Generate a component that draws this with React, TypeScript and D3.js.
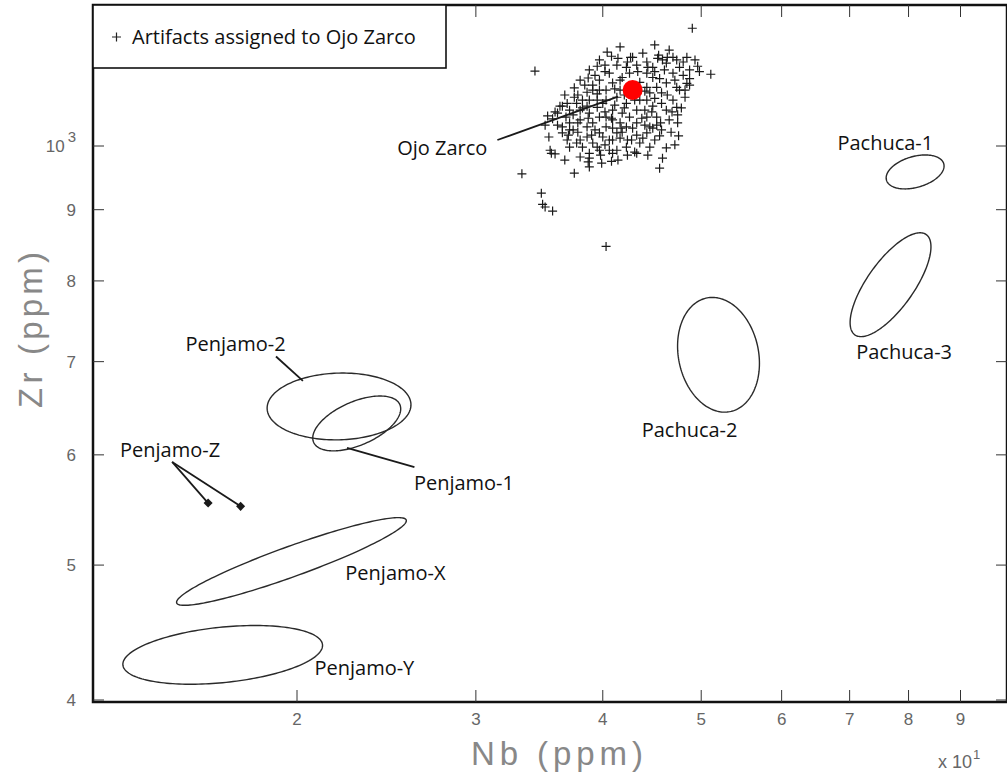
import * as d3 from "d3"

// Artifacts assigned to Ojo Zarco: [Nb ppm, Zr ppm]
const artifacts: [number, number][] = [
  [49.0, 1215], [34.3, 1132], [49.6, 1141], [51.1, 1126], [40.8, 1160], [42.6, 1158],
  [45.4, 1162], [46.9, 1158], [48.4, 1158], [36.5, 1068], [35.7, 1046], [35.4, 1015],
  [35.5, 993], [35.9, 987], [36.7, 977], [33.3, 955], [37.5, 956], [38.7, 974],
  [38.8, 966], [39.8, 985], [40.8, 975], [41.3, 993], [43.0, 990], [45.5, 964],
  [46.2, 997], [47.5, 1017], [47.4, 1039], [47.4, 1053], [34.8, 925], [34.9, 908],
  [35.1, 904], [35.7, 898], [40.3, 847], [36.5, 1022], [37.0, 1018], [37.8, 1023],
  [37.7, 1005], [39.0, 1018], [39.5, 998], [42.3, 1010], [44.2, 1022], [45.5, 1017],
  [45.6, 1039], [46.9, 1079], [48.2, 1084], [48.4, 1109], [48.0, 1124], [36.3, 1068],
  [37.5, 1084], [38.6, 1093], [39.1, 1106], [39.7, 1115], [41.3, 1143], [43.2, 1143],
  [44.2, 1149], [46.2, 1147], [47.6, 1139], [44.8, 1120], [46.2, 1110], [47.3, 1102],
  [45.7, 1092], [44.8, 1068], [46.2, 1061], [44.2, 1049], [43.2, 1039], [42.2, 1032],
  [41.3, 1022], [40.3, 1032], [39.7, 1049], [38.8, 1056], [38.0, 1061], [40.9, 1061],
  [41.8, 1056], [43.2, 1061], [40.3, 1079], [39.5, 1079], [38.8, 1079], [38.6, 1068],
  [39.7, 1097], [40.9, 1110], [40.6, 1128], [41.8, 1120], [42.2, 1139], [44.2, 1128],
  [44.2, 1102], [45.2, 1102], [44.2, 1079], [42.2, 1073], [41.3, 1084], [44.8, 1139],
  [46.9, 1128], [42.8, 1158], [43.8, 1166], [45.8, 1153], [47.3, 1153], [48.0, 1149],
  [43.5, 1079], [42.5, 1049], [41.6, 1039], [40.0, 1015], [39.1, 1005], [38.2, 998],
  [37.1, 998], [36.5, 1032], [37.1, 1039], [38.0, 1044], [38.6, 1032], [39.1, 1039],
  [40.3, 1049], [40.9, 1044], [41.8, 1023], [43.2, 1018], [43.5, 1005], [44.5, 1032],
  [45.2, 1049], [46.5, 1044], [47.3, 1066], [47.6, 1097], [45.7, 1073], [42.8, 1097],
  [41.6, 1097], [40.3, 1097], [39.5, 1066], [38.2, 1079], [37.7, 1073], [37.1, 1061],
  [36.8, 1049], [37.4, 1027], [38.6, 1015], [39.7, 1022], [38.8, 988], [38.0, 982],
  [40.9, 1010], [42.2, 998], [44.5, 998], [43.2, 988], [40.9, 988], [39.9, 972],
  [35.6, 988], [41.6, 1115], [42.5, 1128], [43.5, 1111], [44.5, 1092], [45.5, 1118],
  [42.0, 1088], [41.1, 1070], [40.2, 1058], [44.0, 1061], [45.0, 1082], [40.2, 1143],
  [39.3, 1124], [38.4, 1106], [37.5, 1101], [36.7, 1088], [45.2, 1035], [46.3, 1088],
  [48.7, 1134], [46.5, 1172], [45.0, 1182], [41.6, 1178], [39.7, 1153], [38.8, 1134],
  [38.0, 1115], [35.9, 1058], [35.1, 1035], [48.7, 1106], [46.7, 1023], [40.6, 1010],
  [44.0, 1035],
  [40.2, 1131], [41.1, 1099], [42.0, 1065], [43.0, 1079], [44.0, 1095], [45.0, 1131],
  [46.0, 1134], [47.1, 1115], [48.2, 1097], [40.8, 1047], [41.7, 1030], [42.7, 1010],
  [43.7, 1047], [44.7, 1058], [45.7, 1027], [46.8, 1058], [47.8, 1065], [39.5, 1090],
  [38.7, 1047], [37.8, 1039], [36.9, 1010], [36.1, 1035], [39.3, 1027], [40.2, 1002],
  [41.4, 977], [42.3, 985], [44.3, 985], [45.0, 1010], [45.8, 980], [47.1, 1002],
  [48.7, 1118], [49.3, 1153], [49.8, 1131], [42.3, 1149], [43.3, 1131], [44.3, 1139],
  [45.3, 1156], [46.3, 1158], [41.4, 1156], [40.4, 1168], [39.5, 1141], [38.7, 1119],
  [37.8, 1088], [36.9, 1073], [36.1, 1056], [35.3, 1051], [42.8, 1030], [43.8, 1013],
  [44.8, 1030], [40.9, 1030], [40.0, 1073], [39.1, 1097], [38.2, 1065], [37.4, 1053],
  [41.6, 1013], [40.6, 993], [39.7, 993], [38.8, 980], [38.0, 1010], [37.1, 1027],
]

const ojoZarcoSource: [number, number] = [42.8, 1097]

// Source ellipses: center (Nb, Zr), half-extent in log10 Nb, half-extent in log10 Zr, correlation
const ellipseNames = ["Pachuca-1", "Pachuca-3", "Pachuca-2", "Penjamo-2", "Penjamo-1", "Penjamo-X", "Penjamo-Y"]
const ellipseCenters: [number, number][] = [[81.2, 958], [76.8, 795], [52.0, 708], [22.0, 650], [22.9, 632], [19.75, 503], [16.9, 431]]
const ellipseSpreadNb = [0.0285, 0.0398, 0.0403, 0.0708, 0.0433, 0.1131, 0.0983]
const ellipseSpreadZr = [0.0122, 0.0373, 0.0412, 0.024, 0.0197, 0.0315, 0.0211]
const ellipseRho = [0.35, 0.73, -0.15, 0.05, 0.53, 0.93, 0.32]

// Penjamo-Z samples
const penjamoZ: [number, number][] = [[16.35, 554], [17.6, 551]]

// Labels (text, Nb, Zr) and leader lines
const labelTexts = ["Ojo Zarco", "Pachuca-1", "Pachuca-3", "Pachuca-2", "Penjamo-2", "Penjamo-1", "Penjamo-Z", "Penjamo-X", "Penjamo-Y"]
const labelAt: [number, number][] = [[27.8, 998], [75.9, 1005], [79.2, 712], [48.7, 626], [17.4, 721], [29.2, 573], [15.0, 605], [25.0, 494], [23.3, 422]]
const leaders: [[number, number], [number, number]][] = [
  [[31.5, 1010], [41.4, 1085]],
  [[19.07, 706], [20.27, 678]],
  [[26.1, 588], [22.4, 607]],
  [[15.07, 593], penjamoZ[0]],
  [[15.07, 593], penjamoZ[1]],
]

const xTicks = [20, 30, 40, 50, 60, 70, 80, 90]
const xTickLabels = ["2", "3", "4", "5", "6", "7", "8", "9"]
const yTicks = [400, 500, 600, 700, 800, 900, 1000]
const yTickLabels = ["4", "5", "6", "7", "8", "9", "10"]

export default function App() {
  const left = 93
  const right = 1007
  const top = 5
  const bottom = 702

  const x = d3.scaleLog().domain([20, 90]).range([297, 960.5])
  const y = d3.scaleLog().domain([400, 1000]).range([700, 146])

  const ellipsePath = (i: number) => {
    const [cx, cy] = ellipseCenters[i]
    const a = ellipseSpreadNb[i]
    const b = ellipseSpreadZr[i]
    const r = ellipseRho[i]
    const pts = d3.range(0, 2 * Math.PI, Math.PI / 90).map((t) => {
      const lx = Math.log10(cx) + a * Math.cos(t)
      const ly = Math.log10(cy) + b * (r * Math.cos(t) + Math.sqrt(1 - r * r) * Math.sin(t))
      return [x(10 ** lx), y(10 ** ly)] as [number, number]
    })
    return d3.line().curve(d3.curveLinearClosed)(pts) as string
  }

  const labelFont = "'Open Sans', 'Noto Sans', sans-serif"
  const axisFont = "'Liberation Sans', Arial, sans-serif"
  const ink = "#1a1a1a"

  return (
    <svg width={1007} height={777} style={{ position: "absolute", left: 0, top: 0, background: "#fff" }}>
      {/* ellipses */}
      {ellipseNames.map((n, i) => (
        <path key={n} d={ellipsePath(i)} fill="none" stroke="#2a2a2a" strokeWidth={1.4} />
      ))}

      {/* leader lines */}
      {leaders.map(([p0, p1], i) => (
        <line key={i} x1={x(p0[0])} y1={y(p0[1])} x2={x(p1[0])} y2={y(p1[1])} stroke={ink} strokeWidth={1.8} />
      ))}

      {/* Penjamo-Z diamonds */}
      {penjamoZ.map((d, i) => (
        <rect key={i} x={-3.2} y={-3.2} width={6.4} height={6.4} fill={ink}
          transform={`translate(${x(d[0])},${y(d[1])}) rotate(45)`} />
      ))}

      {/* artifacts */}
      <g stroke="#1a1a1a" strokeWidth={1.2}>
        {artifacts.map((d, i) => {
          const px = x(d[0])
          const py = y(d[1])
          return <path key={i} d={`M${px - 4.5},${py}H${px + 4.5}M${px},${py - 4.5}V${py + 4.5}`} />
        })}
      </g>

      <circle cx={x(ojoZarcoSource[0])} cy={y(ojoZarcoSource[1])} r={10} fill="#ff0000" />

      {/* labels */}
      {labelTexts.map((t, i) => (
        <text key={t} x={x(labelAt[i][0])} y={y(labelAt[i][1])} textAnchor="middle" dominantBaseline="central"
          fontFamily={labelFont} fontSize={20} fill="#111">{t}</text>
      ))}

      {/* frame */}
      <rect x={left} y={top} width={right - left} height={bottom - top} fill="none" stroke="#111" strokeWidth={2.5} />

      {/* x ticks */}
      {xTicks.map((t, i) => (
        <g key={t}>
          <line x1={x(t)} x2={x(t)} y1={bottom} y2={bottom - 12} stroke="#333" strokeWidth={1} />
          <line x1={x(t)} x2={x(t)} y1={top} y2={top + 12} stroke="#333" strokeWidth={1} />
          <text x={x(t)} y={bottom + 23} textAnchor="middle" fontFamily={axisFont} fontSize={17} fill="#666">{xTickLabels[i]}</text>
        </g>
      ))}

      {/* y ticks */}
      {yTicks.map((t, i) => (
        <g key={t}>
          <line x1={left} x2={left + 11} y1={y(t)} y2={y(t)} stroke="#333" strokeWidth={1} />
          <line x1={right} x2={right - 11} y1={y(t)} y2={y(t)} stroke="#333" strokeWidth={1} />
          {t === 1000 ? (
            <text x={left - 17} y={y(t) + 6} textAnchor="end" fontFamily={axisFont} fontSize={17} fill="#666">
              {yTickLabels[i]}
              <tspan dx={3} dy={-10} fontSize={15}>3</tspan>
            </text>
          ) : (
            <text x={left - 17} y={y(t) + 6} textAnchor="end" fontFamily={axisFont} fontSize={17} fill="#666">{yTickLabels[i]}</text>
          )}
        </g>
      ))}

      {/* axis titles */}
      <text x={557} y={765} textAnchor="middle" fontFamily={axisFont} fontSize={33} fill="#888"
        textLength={172} lengthAdjust="spacing">Nb (ppm)</text>
      <text transform="translate(42,330) rotate(-90)" textAnchor="middle" fontFamily={axisFont} fontSize={33} fill="#888"
        textLength={156} lengthAdjust="spacing">Zr (ppm)</text>
      <text x={938} y={768} fontFamily={axisFont} fontSize={18} fill="#666">
        x 10<tspan dx={1} dy={-9} fontSize={13}>1</tspan>
      </text>

      {/* legend */}
      <rect x={left} y={top} width={353} height={63} fill="#fff" stroke="#111" strokeWidth={1.6} />
      <path d={`M${112},${37}H${121}M${116.5},${32.5}V${41.5}`} stroke="#222" strokeWidth={1.2} />
      <text x={132} y={44} fontFamily={labelFont} fontSize={20} fill="#111">Artifacts assigned to Ojo Zarco</text>
    </svg>
  )
}
